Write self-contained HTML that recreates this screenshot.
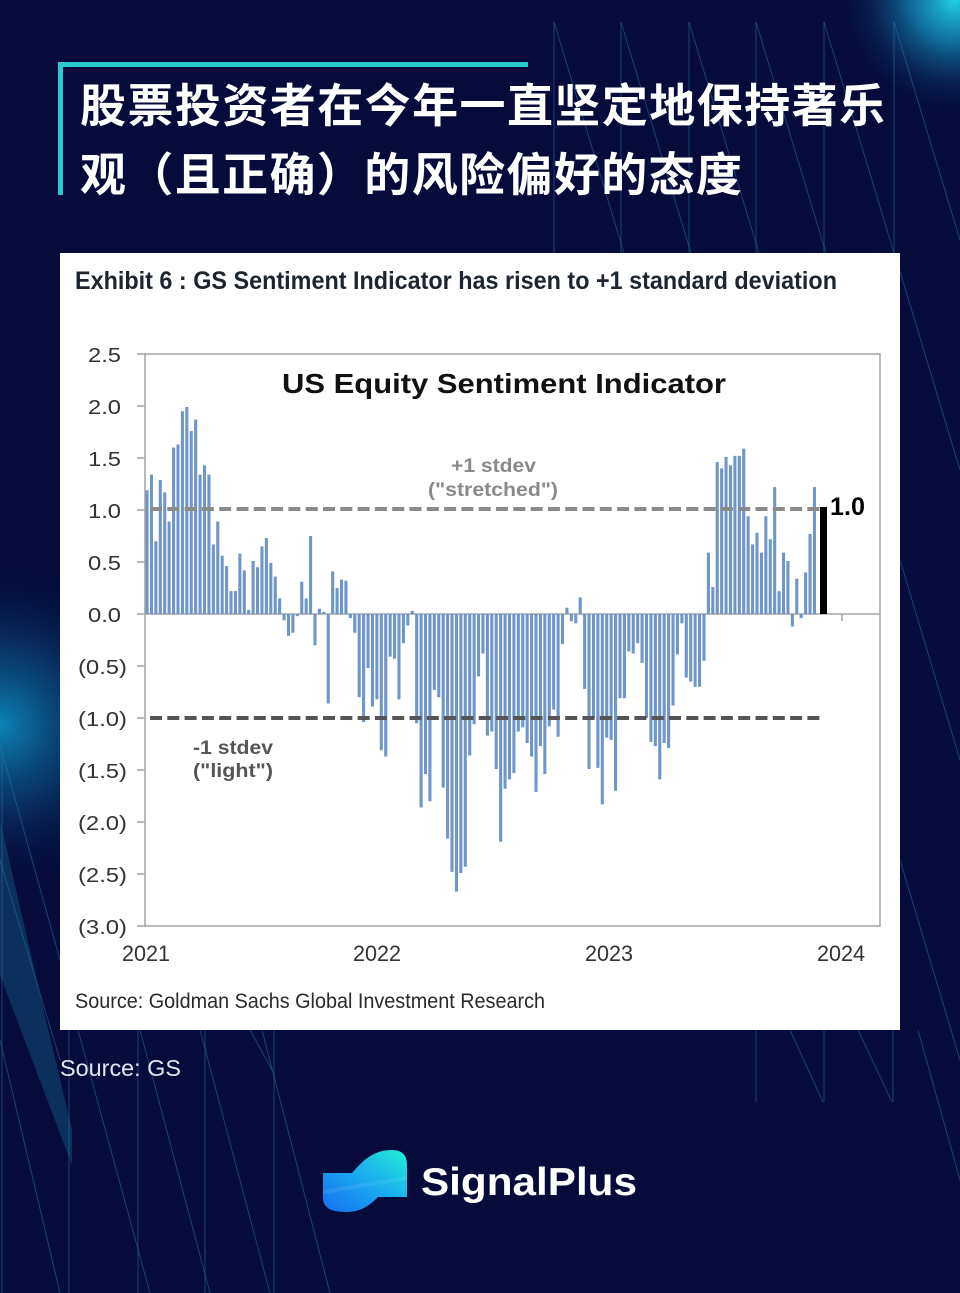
<!DOCTYPE html>
<html>
<head>
<meta charset="utf-8">
<style>
  html,body{margin:0;padding:0;background:#060b3c;}
  body{width:960px;height:1293px;overflow:hidden;}
  svg{display:block;}
</style>
</head>
<body>
<svg width="960" height="1293" viewBox="0 0 960 1293" xmlns="http://www.w3.org/2000/svg">
  <defs>
    <radialGradient id="gTR" cx="955" cy="0" r="120" gradientUnits="userSpaceOnUse">
      <stop offset="0" stop-color="#22d0e6" stop-opacity="1"/>
      <stop offset="0.35" stop-color="#1391bf" stop-opacity="0.75"/>
      <stop offset="1" stop-color="#060b3c" stop-opacity="0"/>
    </radialGradient>
    <radialGradient id="gL" cx="0" cy="725" r="170" gradientUnits="userSpaceOnUse">
      <stop offset="0" stop-color="#0b86b6" stop-opacity="1"/>
      <stop offset="0.45" stop-color="#0a4f82" stop-opacity="0.6"/>
      <stop offset="1" stop-color="#060b3c" stop-opacity="0"/>
    </radialGradient>
    <linearGradient id="gLogo" x1="0" y1="1" x2="1" y2="0">
      <stop offset="0" stop-color="#1670f0"/>
      <stop offset="0.5" stop-color="#1aa8f0"/>
      <stop offset="1" stop-color="#22eed6"/>
    </linearGradient>
  </defs>

  <!-- background -->
  <rect x="0" y="0" width="960" height="1293" fill="#060b3c"/>
  <rect x="0" y="0" width="960" height="1293" fill="url(#gTR)"/>
  <rect x="0" y="500" width="300" height="500" fill="url(#gL)"/>
  <polygon points="0,820 46,1020 72,1130 72,1165 0,975" fill="#0c3a66" opacity="0.8"/>

  <!-- decorative lines -->
  <g stroke="#2a77a8" stroke-opacity="0.5" stroke-width="1" fill="none">
    <line x1="554" y1="22" x2="554" y2="253"/>
    <line x1="621" y1="22" x2="621" y2="253"/>
    <line x1="689" y1="22" x2="689" y2="253"/>
    <line x1="756" y1="22" x2="756" y2="253"/>
    <line x1="824" y1="22" x2="824" y2="253"/>
    <line x1="894" y1="22" x2="894" y2="253"/>
    <line x1="554" y1="22" x2="624" y2="253"/>
    <line x1="621" y1="22" x2="691" y2="253"/>
    <line x1="689" y1="22" x2="759" y2="253"/>
    <line x1="756" y1="22" x2="826" y2="253"/>
    <line x1="824" y1="22" x2="894" y2="253"/>
    <line x1="894" y1="22" x2="960" y2="240"/>
    <line x1="895" y1="255" x2="960" y2="470"/>
    <line x1="900" y1="560" x2="960" y2="760"/>
    <line x1="900" y1="860" x2="960" y2="1060"/>
    <line x1="918" y1="1030" x2="960" y2="1180"/>
    <line x1="756" y1="1030" x2="756" y2="1102"/>
    <line x1="824" y1="1030" x2="824" y2="1102"/>
    <line x1="893" y1="1030" x2="893" y2="1102"/>
    <line x1="790" y1="1030" x2="823" y2="1102"/>
    <line x1="858" y1="1030" x2="892" y2="1102"/>
    <line x1="2" y1="745" x2="2" y2="1293"/>
    <line x1="0" y1="745" x2="60" y2="960"/>
    <line x1="0" y1="860" x2="60" y2="1060"/>
    <line x1="69" y1="1030" x2="69" y2="1293"/>
    <line x1="138" y1="1030" x2="138" y2="1293"/>
    <line x1="205" y1="1030" x2="205" y2="1293"/>
    <line x1="274" y1="1030" x2="274" y2="1293"/>
    <line x1="0" y1="1040" x2="60" y2="1293"/>
    <line x1="78" y1="1030" x2="150" y2="1293"/>
    <line x1="140" y1="1030" x2="210" y2="1293"/>
    <line x1="200" y1="1030" x2="270" y2="1293"/>
    <line x1="262" y1="1030" x2="330" y2="1293"/>
    <line x1="250" y1="1030" x2="272" y2="1070"/>
  </g>

  <!-- cyan frame -->
  <rect x="58" y="62" width="470" height="5" fill="#2ac8cf"/>
  <rect x="58" y="62" width="5" height="133" fill="#2ac8cf"/>

  <!-- title -->
  <text x="80" y="122" font-family="'Liberation Sans','Noto Sans CJK SC',sans-serif" font-weight="700" font-size="46" fill="#ffffff" textLength="805" lengthAdjust="spacing">股票投资者在今年一直坚定地保持著乐</text>
  <text x="80" y="191" font-family="'Liberation Sans','Noto Sans CJK SC',sans-serif" font-weight="700" font-size="46" fill="#ffffff" textLength="662" lengthAdjust="spacing">观（且正确）的风险偏好的态度</text>

  <!-- white panel -->
  <rect x="60" y="253" width="840" height="777" fill="#ffffff"/>

  <text x="75" y="289" font-family="'Liberation Sans Narrow','Liberation Sans',sans-serif" font-weight="700" font-size="25" fill="#1c2530" textLength="762" lengthAdjust="spacingAndGlyphs">Exhibit 6 : GS Sentiment Indicator has risen to +1 standard deviation</text>

  <!-- plot frame -->
  <g stroke="#a3a3a3" stroke-width="1.5" fill="none">
    <rect x="145" y="354" width="735" height="572"/>
    <line x1="145" y1="614" x2="880" y2="614"/>
    <line x1="137" y1="354" x2="145" y2="354"/>
    <line x1="137" y1="406" x2="145" y2="406"/>
    <line x1="137" y1="458" x2="145" y2="458"/>
    <line x1="137" y1="510" x2="145" y2="510"/>
    <line x1="137" y1="562" x2="145" y2="562"/>
    <line x1="137" y1="614" x2="145" y2="614"/>
    <line x1="137" y1="666" x2="145" y2="666"/>
    <line x1="137" y1="718" x2="145" y2="718"/>
    <line x1="137" y1="770" x2="145" y2="770"/>
    <line x1="137" y1="822" x2="145" y2="822"/>
    <line x1="137" y1="874" x2="145" y2="874"/>
    <line x1="137" y1="926" x2="145" y2="926"/>
    <line x1="842" y1="614" x2="842" y2="621"/>
  </g>

  <!-- y labels -->
  <g font-family="'Liberation Sans',sans-serif" font-size="20" fill="#333333" text-anchor="end">
    <text x="121" y="362" textLength="33" lengthAdjust="spacingAndGlyphs">2.5</text>
    <text x="121" y="414" textLength="33" lengthAdjust="spacingAndGlyphs">2.0</text>
    <text x="121" y="466" textLength="33" lengthAdjust="spacingAndGlyphs">1.5</text>
    <text x="121" y="518" textLength="33" lengthAdjust="spacingAndGlyphs">1.0</text>
    <text x="121" y="570" textLength="33" lengthAdjust="spacingAndGlyphs">0.5</text>
    <text x="121" y="622" textLength="33" lengthAdjust="spacingAndGlyphs">0.0</text>
    <text x="127" y="674" textLength="49" lengthAdjust="spacingAndGlyphs">(0.5)</text>
    <text x="127" y="726" textLength="49" lengthAdjust="spacingAndGlyphs">(1.0)</text>
    <text x="127" y="778" textLength="49" lengthAdjust="spacingAndGlyphs">(1.5)</text>
    <text x="127" y="830" textLength="49" lengthAdjust="spacingAndGlyphs">(2.0)</text>
    <text x="127" y="882" textLength="49" lengthAdjust="spacingAndGlyphs">(2.5)</text>
    <text x="127" y="934" textLength="49" lengthAdjust="spacingAndGlyphs">(3.0)</text>
  </g>

  <!-- x labels -->
  <g font-family="'Liberation Sans',sans-serif" font-size="22" fill="#333333" text-anchor="middle">
    <text x="146" y="961" textLength="48" lengthAdjust="spacingAndGlyphs">2021</text>
    <text x="377" y="961" textLength="48" lengthAdjust="spacingAndGlyphs">2022</text>
    <text x="609" y="961" textLength="48" lengthAdjust="spacingAndGlyphs">2023</text>
    <text x="841" y="961" textLength="48" lengthAdjust="spacingAndGlyphs">2024</text>
  </g>

  <!-- bars -->
  <g transform="translate(145.5,614) scale(4.42,-104)">
    <path fill="#6e96c8" d="M0 0h.7v1.19h-.7zM1 0h.7v1.34h-.7zM2 0h.7v.7h-.7zM3 0h.7v1.29h-.7zM4 0h.7v1.17h-.7zM5 0h.7v.89h-.7zM6 0h.7v1.6h-.7zM7 0h.7v1.63h-.7zM8 0h.7v1.95h-.7zM9 0h.7v1.99h-.7zM10 0h.7v1.76h-.7zM11 0h.7v1.87h-.7zM12 0h.7v1.34h-.7zM13 0h.7v1.43h-.7zM14 0h.7v1.34h-.7zM15 0h.7v.67h-.7zM16 0h.7v.89h-.7zM17 0h.7v.56h-.7zM18 0h.7v.46h-.7zM19 0h.7v.22h-.7zM20 0h.7v.22h-.7zM21 0h.7v.58h-.7zM22 0h.7v.42h-.7zM23 0h.7v.04h-.7zM24 0h.7v.51h-.7zM25 0h.7v.45h-.7zM26 0h.7v.65h-.7zM27 0h.7v.73h-.7zM28 0h.7v.49h-.7zM29 0h.7v.36h-.7zM30 0h.7v.15h-.7zM31 0h.7v-.06h-.7zM32 0h.7v-.21h-.7zM33 0h.7v-.18h-.7zM34 0h.7v-.02h-.7zM35 0h.7v.31h-.7zM36 0h.7v.15h-.7zM37 0h.7v.75h-.7zM38 0h.7v-.3h-.7zM39 0h.7v.05h-.7zM40 0h.7v.02h-.7zM41 0h.7v-.86h-.7zM42 0h.7v.41h-.7zM43 0h.7v.25h-.7zM44 0h.7v.33h-.7zM45 0h.7v.32h-.7zM46 0h.7v-.04h-.7zM47 0h.7v-.18h-.7zM48 0h.7v-.8h-.7zM49 0h.7v-1.04h-.7zM50 0h.7v-.52h-.7zM51 0h.7v-.89h-.7zM52 0h.7v-.82h-.7zM53 0h.7v-1.31h-.7zM54 0h.7v-1.37h-.7zM55 0h.7v-.41h-.7zM56 0h.7v-.43h-.7zM57 0h.7v-.82h-.7zM58 0h.7v-.28h-.7zM59 0h.7v-.11h-.7zM60 0h.7v.03h-.7zM61 0h.7v-1.05h-.7zM62 0h.7v-1.86h-.7zM63 0h.7v-1.54h-.7zM64 0h.7v-1.8h-.7zM65 0h.7v-.73h-.7zM66 0h.7v-.8h-.7zM67 0h.7v-1.67h-.7zM68 0h.7v-2.16h-.7zM69 0h.7v-2.48h-.7zM70 0h.7v-2.67h-.7zM71 0h.7v-2.49h-.7zM72 0h.7v-2.43h-.7zM73 0h.7v-1.36h-.7zM74 0h.7v-1.06h-.7zM75 0h.7v-.6h-.7zM76 0h.7v-.38h-.7zM77 0h.7v-1.17h-.7zM78 0h.7v-1.13h-.7zM79 0h.7v-1.49h-.7zM80 0h.7v-2.19h-.7zM81 0h.7v-1.68h-.7zM82 0h.7v-1.59h-.7zM83 0h.7v-1.53h-.7zM84 0h.7v-1.13h-.7zM85 0h.7v-1.09h-.7zM86 0h.7v-1.24h-.7zM87 0h.7v-1.37h-.7zM88 0h.7v-1.71h-.7zM89 0h.7v-1.27h-.7zM90 0h.7v-1.54h-.7zM91 0h.7v-1.08h-.7zM92 0h.7v-.92h-.7zM93 0h.7v-1.18h-.7zM94 0h.7v-.29h-.7zM95 0h.7v.06h-.7zM96 0h.7v-.07h-.7zM97 0h.7v-.09h-.7zM98 0h.7v.16h-.7zM99 0h.7v-.72h-.7zM100 0h.7v-1.49h-.7zM101 0h.7v-1.0h-.7zM102 0h.7v-1.48h-.7zM103 0h.7v-1.83h-.7zM104 0h.7v-1.19h-.7zM105 0h.7v-1.21h-.7zM106 0h.7v-1.7h-.7zM107 0h.7v-.81h-.7zM108 0h.7v-.81h-.7zM109 0h.7v-.36h-.7zM110 0h.7v-.38h-.7zM111 0h.7v-.28h-.7zM112 0h.7v-.47h-.7zM113 0h.7v-1.0h-.7zM114 0h.7v-1.23h-.7zM115 0h.7v-1.27h-.7zM116 0h.7v-1.59h-.7zM117 0h.7v-1.24h-.7zM118 0h.7v-1.29h-.7zM119 0h.7v-.88h-.7zM120 0h.7v-.39h-.7zM121 0h.7v-.09h-.7zM122 0h.7v-.61h-.7zM123 0h.7v-.65h-.7zM124 0h.7v-.7h-.7zM125 0h.7v-.7h-.7zM126 0h.7v-.45h-.7zM127 0h.7v.59h-.7zM128 0h.7v.26h-.7zM129 0h.7v1.46h-.7zM130 0h.7v1.4h-.7zM131 0h.7v1.51h-.7zM132 0h.7v1.43h-.7zM133 0h.7v1.52h-.7zM134 0h.7v1.52h-.7zM135 0h.7v1.59h-.7zM136 0h.7v.94h-.7zM137 0h.7v.67h-.7zM138 0h.7v.78h-.7zM139 0h.7v.59h-.7zM140 0h.7v.94h-.7zM141 0h.7v.72h-.7zM142 0h.7v1.22h-.7zM143 0h.7v.22h-.7zM144 0h.7v.59h-.7zM145 0h.7v.51h-.7zM146 0h.7v-.12h-.7zM147 0h.7v.34h-.7zM148 0h.7v-.04h-.7zM149 0h.7v.4h-.7zM150 0h.7v.77h-.7zM151 0h.7v1.22h-.7z"/>
  </g>
  <!-- latest black bar -->
  <rect x="820" y="507" width="7" height="107" fill="#000000"/>

  <!-- dashed stdev lines -->
  <line x1="150" y1="509" x2="822" y2="509" stroke="#8a8a8a" stroke-width="4" stroke-dasharray="12 5.3"/>
  <line x1="150" y1="718" x2="822" y2="718" stroke="#555555" stroke-width="4" stroke-dasharray="12 5.3"/>

  <!-- chart title & annotations -->
  <text x="282" y="393" font-family="'Liberation Sans',sans-serif" font-weight="700" font-size="28" fill="#111111" textLength="444" lengthAdjust="spacingAndGlyphs">US Equity Sentiment Indicator</text>
  <g font-family="'Liberation Sans',sans-serif" font-weight="700" font-size="19">
    <text x="451" y="472" fill="#8a8a8a" textLength="85" lengthAdjust="spacingAndGlyphs">+1 stdev</text>
    <text x="428" y="496" fill="#8a8a8a" textLength="130" lengthAdjust="spacingAndGlyphs">("stretched")</text>
    <text x="193" y="754" fill="#555555" textLength="80" lengthAdjust="spacingAndGlyphs">-1 stdev</text>
    <text x="193" y="777" fill="#555555" textLength="80" lengthAdjust="spacingAndGlyphs">("light")</text>
  </g>
  <text x="830" y="515" font-family="'Liberation Sans',sans-serif" font-weight="700" font-size="25" fill="#000000" textLength="35" lengthAdjust="spacingAndGlyphs">1.0</text>

  <text x="75" y="1008" font-family="'Liberation Sans Narrow','Liberation Sans',sans-serif" font-size="21" fill="#2a2a2a" textLength="470" lengthAdjust="spacingAndGlyphs">Source: Goldman Sachs Global Investment Research</text>

  <!-- footer -->
  <text x="60" y="1076" font-family="'Liberation Sans',sans-serif" font-size="23" fill="#e4e6ee" textLength="121" lengthAdjust="spacingAndGlyphs">Source: GS</text>

  <path d="M323,1173 L352,1173 C362,1162 372,1150 392,1150 Q407,1150 407,1165 L407,1197 L378,1197 C368,1207 360,1212 345,1212 Q323,1212 323,1198 Z" fill="url(#gLogo)"/>
  <path d="M323,1190 L407,1176 L407,1180 L323,1194 Z" fill="#ffffff" opacity="0.08"/>
  <text x="421" y="1195" font-family="'Liberation Sans',sans-serif" font-weight="700" font-size="39" fill="#ffffff" textLength="216" lengthAdjust="spacingAndGlyphs">SignalPlus</text>
</svg>
</body>
</html>
